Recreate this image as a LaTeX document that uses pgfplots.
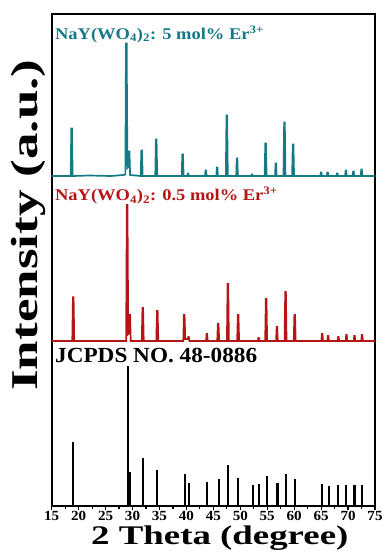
\documentclass[border=0pt]{standalone}
\usepackage{fontspec}
\setmainfont{Liberation Serif}[FakeStretch=1.13]
\newfontfamily\tickfont{Liberation Serif}[FakeStretch=1.08]
\newfontfamily\jfont{Liberation Serif}[FakeStretch=1.08]
\newfontfamily\xlabfont{Liberation Serif}[FakeStretch=1.37]
\newfontfamily\ylabfont{Liberation Serif}[FakeStretch=1.4]
\usepackage{pgfplots}
\pgfplotsset{compat=1.18}
\definecolor{teal1}{RGB}{22,122,133}
\definecolor{red1}{RGB}{180,22,22}
\begin{document}
\begin{tikzpicture}
\path[use as bounding box] (-51.7bp,-49bp) rectangle (333.3bp,506bp);
\begin{axis}[
  scale only axis, width=323.3bp, height=492bp,
  xmin=15, xmax=75, ymin=0, ymax=492,
  axis line style={line width=1.6bp},
  xtick={15,20,...,75}, minor x tick num=1,
  ytick=\empty,
  tick align=outside, tick pos=bottom,
  major tick length=4bp, minor tick length=2.5bp,
  every tick/.style={line width=1.2bp, black},
  /pgf/number format/assume math mode=true,
  xticklabel style={font=\tickfont\fontsize{14}{15}\selectfont\bfseries, inner sep=0.5bp, text height=10bp, text depth=0bp, yshift=0bp},
  clip=false,
]
% 5 mol% Er
\addplot[teal1, line width=1.7bp] coordinates {
(15,330) (18.52,330) (18.64,377.5) (18.76,377.5) (18.88,330) (22,330.5)(26,330)(28.3,331)(28.67,331.5)(28.79,462.5)(28.91,462.5)(29.05,338)(29.25,339)(29.33,354.5)(29.43,354.5)(29.55,331)(31.52,330)(31.64,355.5)(31.76,355.5)(31.88,330)(34.22,330)(34.34,366.5)(34.46,366.5)(34.58,330)(39.12,330)(39.24,351.5)(39.36,351.5)(39.48,330)(40.15,330)(40.25,332.5)(40.35,332.5)(40.45,330)(43.45,330)(43.55,335.5)(43.65,335.5)(43.75,330)(45.55,330)(45.65,338.5)(45.75,338.5)(45.85,330)(47.32,330)(47.44,390.5)(47.56,390.5)(47.68,330)(49.25,330)(49.35,347.5)(49.45,347.5)(49.55,330)(52.05,330)(52.15,331.5)(52.25,331.5)(52.35,330)(54.52,330)(54.64,362.5)(54.76,362.5)(54.88,330)(56.45,330)(56.55,342.5)(56.65,342.5)(56.75,330)(58.02,330)(58.14,383.5)(58.26,383.5)(58.38,330)(59.62,330)(59.74,361.5)(59.86,361.5)(59.98,330)(64.85,330)(64.95,333.5)(65.05,333.5)(65.15,330)(66.05,330)(66.15,333.5)(66.25,333.5)(66.35,330)(67.85,330)(67.95,332.5)(68.05,332.5)(68.15,330)(69.45,330)(69.55,335.5)(69.65,335.5)(69.75,330)(70.85,330)(70.95,334.5)(71.05,334.5)(71.15,330)(72.35,330)(72.45,336.5)(72.55,336.5)(72.65,330)(75,330)
};
% 0.5 mol% Er
\addplot[red1, line width=1.7bp] coordinates {
(15,165)(18.82,165)(18.94,208.7)(19.06,208.7)(19.18,165)(28.82,165)(28.94,301)(29.06,301)(29.2,172)(29.4,173)(29.45,191)(29.55,191)(29.67,165)(31.72,165)(31.84,198)(31.96,198)(32.08,165)(34.42,165)(34.54,195)(34.66,195)(34.78,165)(39.42,165)(39.54,191)(39.66,191)(39.78,167)(40.25,167)(40.35,169)(40.45,169)(40.55,165)(43.65,165)(43.75,172)(43.85,172)(43.95,165)(45.72,165)(45.84,182)(45.96,182)(46.08,165)(47.52,165)(47.64,222)(47.76,222)(47.88,165)(49.42,165)(49.54,191)(49.66,191)(49.78,165)(53.25,165)(53.35,168)(53.45,168)(53.55,165)(54.62,165)(54.74,207)(54.86,207)(54.98,165)(56.65,165)(56.75,179)(56.85,179)(56.95,165)(58.22,165)(58.34,214)(58.46,214)(58.58,165)(59.92,165)(60.04,191)(60.16,191)(60.28,165)(65.05,165)(65.15,172)(65.25,172)(65.35,165)(66.15,165)(66.25,170)(66.35,170)(66.45,165)(68.05,165)(68.15,169)(68.25,169)(68.35,165)(69.55,165)(69.65,171)(69.75,171)(69.85,165)(71.05,165)(71.15,170)(71.25,170)(71.35,165)(72.45,165)(72.55,171)(72.65,171)(72.75,165)(75,165)
};
% JCPDS sticks
\addplot[black, ycomb, line width=2.1bp, mark=none] coordinates {
(19.0,63.7)(29.1,140)(29.6,34)(32.0,48)(34.6,36)(39.7,32)(40.5,23)(43.9,24)(46.05,27)(47.7,41)(49.6,28)(52.4,21)(53.5,22)(55.0,30)(56.9,23)(58.4,32)(60.1,27)(65.2,22)(66.4,20)(68.2,21)(69.7,21)(71.2,21)(72.6,21)
};
\node[anchor=base west, inner sep=0, text=teal1, font=\fontsize{16.4}{18}\selectfont\bfseries] at (axis cs:15.6,466.7) {NaY(WO\textsubscript{4})\textsubscript{2}: 5 mol\% Er\textsuperscript{3+}};
\node[anchor=base west, inner sep=0, text=red1, font=\fontsize{16.4}{18}\selectfont\bfseries] at (axis cs:15.6,305) {NaY(WO\textsubscript{4})\textsubscript{2}: 0.5 mol\% Er\textsuperscript{3+}};
\node[anchor=base west, inner sep=0, text=black, font=\jfont\fontsize{21.6}{23}\selectfont\bfseries] at (axis cs:15.6,143.3) {JCPDS NO. 48-0886};
\node[anchor=base, inner sep=0, text height=18bp, text depth=6bp, font=\xlabfont\fontsize{27}{30}\selectfont\bfseries] at ([yshift=-38.5bp]axis description cs:0.52,0) {2 Theta (degree)};
\node[anchor=base, rotate=90, inner sep=0, font=\ylabfont\fontsize{38}{40}\selectfont\bfseries] at ([xshift=-14.7bp]axis description cs:0,0.571) {Intensity (a.u.)};
\end{axis}
\end{tikzpicture}
\end{document}
